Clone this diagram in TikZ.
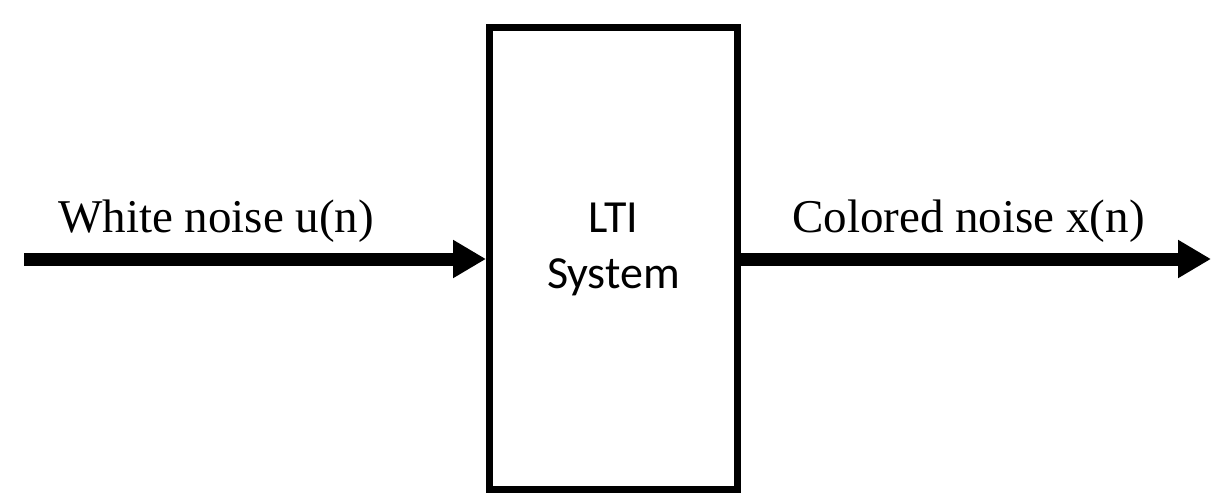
\documentclass[tikz,border=0pt]{standalone}
\usepackage{fontspec}
\setmainfont{Liberation Serif}
\newfontfamily\sysfont{Carlito}
\usetikzlibrary{arrows.meta,positioning}
\tikzset{
  sysbox/.style={draw,line width=7pt,minimum width=248pt,minimum height=462pt,inner sep=0pt},
  systext/.style={font=\sysfont\fontsize{46}{56}\selectfont,align=center},
  sig/.style={line width=13pt,-{Triangle[length=33pt,width=36pt]}},
  lbl/.style={font=\fontsize{47}{56}\selectfont,anchor=base west,inner sep=0pt}
}

\begin{document}
\begin{tikzpicture}[x=1pt,y=-1pt]
  \useasboundingbox (0,0) rectangle (1211,493);
  \node[sysbox] (sys) at (613.5,258.5) {};
  \node[systext] (systxt) at ([yshift=9pt]sys.center) {LTI\\System};
  \coordinate (src) at (24,259);
  \coordinate (snk) at (1211,259);
  \draw[sig] (src) -- (src -| sys.west);
  \draw[sig] (snk -| sys.east) -- (snk);
  \node[lbl] (inlbl) at (58,232) {White noise u(n)};
  \node[lbl] (outlbl) at (792,232) {Colored noise x(n)};
\end{tikzpicture}
\end{document}
